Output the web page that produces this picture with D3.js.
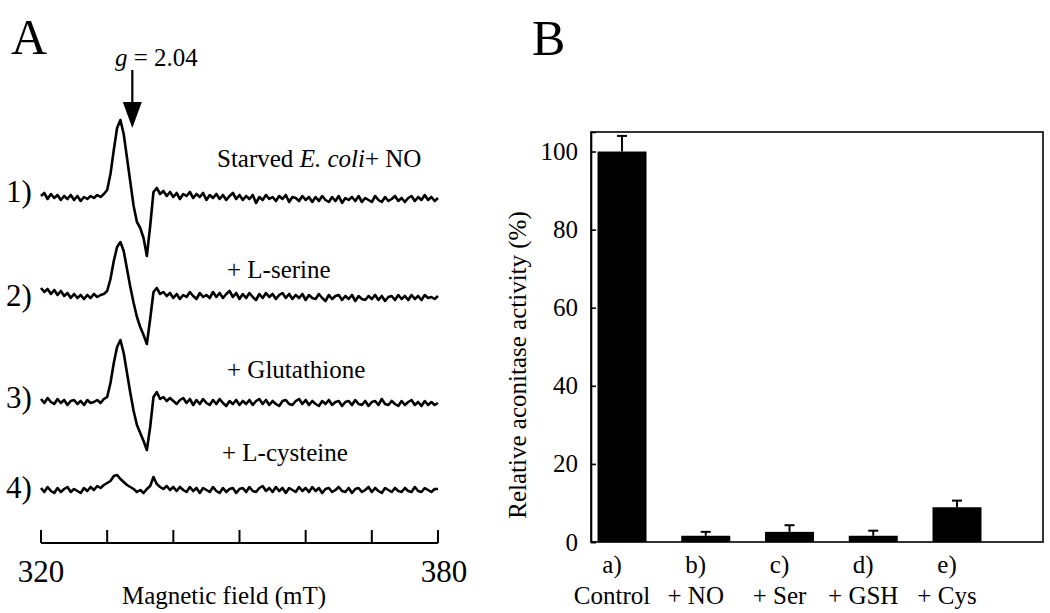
<!DOCTYPE html>
<html>
<head>
<meta charset="utf-8">
<script src="https://cdn.jsdelivr.net/npm/d3@7"></script>
<style>
  html, body { margin: 0; padding: 0; background: #fff; }
  svg { display: block; }
  text { font-family: "Liberation Serif", "Times New Roman", serif; fill: #000; }
</style>
</head>
<body>
<svg id="chart" width="1050" height="613" font-family="Liberation Serif, serif"></svg>
<script>
// ---------------- DATA ----------------
// Panel A: EPR spectra, magnetic field grid (mT) and first-derivative intensities (arb. units)
const fieldStart = 320, fieldEnd = 380, fieldStep = 0.5;
const fieldTicks = [320, 330, 340, 350, 360, 370, 380];
const fieldTickLabels = ["320", "380"];
const gMarkerField = 333.8;
const gLabel = "2.04";

const trace1 = [
  2, 5, -1, 4, 0, 3, -2, 2, -1, 3,
  -2, 2, -3, 1, -1, 2, 0, 3, 1, 4,
  8, 24, 48, 70, 78, 64, 40, 16, -8, -24,
  -30, -40, -58, -28, 6, 10, 4, 7, 2, 6,
  1, 5, -1, 4, 2, 6, 0, 4, 1, 5,
  -2, 3, 0, 4, -1, 3, -2, 2, 5, -1,
  3, -2, 2, -1, 3, -5, 1, -2, 3, -1,
  1, -3, 2, -1, 3, -4, 1, 0, -3, 2,
  -2, 1, -4, 1, -3, 2, -2, -4, 1, -3,
  2, -5, 0, -2, 1, -3, 2, -4, 0, -2,
  -4, 2, -2, -4, 1, -3, -1, 2, -3, 0,
  -4, 0, 2, -3, 1, -2, 3, -2, 1, -3,
  0
];
const trace2 = [
  9, 5, 8, 3, 7, 2, 6, 1, 4, -1,
  3, -1, 2, -2, 2, -1, 3, 0, 2, 3,
  6, 18, 36, 50, 55, 46, 28, 10, -6, -20,
  -30, -38, -47, -22, 5, 9, 3, 5, 1, 4,
  -1, 3, -2, 2, 0, 5, 1, -2, 4, 0,
  2, -1, 5, 0, 4, -1, 3, 6, 0, 4,
  -2, 3, -1, 4, 0, -3, 3, -1, 4, 0,
  3, -2, 2, 4, -1, 3, -2, 2, -1, 3,
  -3, 2, -1, -2, 3, -1, -4, 2, -2, 1,
  2, -3, 1, -2, 2, -4, 1, -2, -3, 1,
  -2, 2, -3, 1, -4, 0, 1, -3, 2, -2,
  1, -3, 2, -2, 1, -3, 2, -1, 0, -2,
  1
];
const trace3 = [
  4, 0, 5, 1, -1, 4, 0, 3, -2, 2,
  3, -1, 2, -2, 3, 0, 1, 3, 0, 4,
  6, 20, 40, 56, 63, 50, 30, 10, -8, -22,
  -30, -38, -47, -24, 6, 11, 4, 6, 2, 5,
  2, -1, 3, 5, 0, 4, -2, 3, -1, 4,
  0, -2, 3, -1, 4, 0, -3, 2, -1, 3,
  -2, 2, -1, 3, -2, 2, 4, -1, 3, -2,
  2, -1, -3, 2, 3, -1, -2, 2, 4, -1,
  3, -2, 2, -1, -3, 2, -1, 3, -2, 1,
  2, -3, 1, 2, -2, 3, -1, -2, 2, -3,
  1, 2, -2, 4, -1, -2, 2, -1, -3, 2,
  -2, 1, 3, -2, 1, -3, 2, -2, 1, -2,
  0
];
const trace4 = [
  2, -2, 3, -1, -3, 2, -2, 1, 3, -2,
  1, -1, -3, 2, -1, 3, 0, 4, 2, 5,
  7, 9, 14, 15, 11, 8, 5, 3, 1, -2,
  0, -3, 1, 4, 13, 6, 3, 1, 4, 0,
  3, -1, 3, 0, -2, 3, -1, 2, -3, 2,
  0, -2, 3, -1, -3, 2, -2, 1, 2, -3,
  1, 2, -2, 3, -1, -2, 2, 4, -1, 2,
  -2, 3, -1, 2, -3, 2, 0, -2, 3, -1,
  2, -2, 3, -1, 2, -3, 1, 2, -2, 0,
  3, -1, -2, 2, -3, 1, 2, -2, 0, 3,
  -2, 2, -1, -3, 2, 0, -2, 2, -1, -2,
  2, -1, -2, 3, -1, -2, 2, 0, -2, 1,
  1
];
const traceNumbers = ["1)", "2)", "3)", "4)"];

// Panel B: relative aconitase activity (%)
const categories = ["a)", "b)", "c)", "d)", "e)"];
const treatments = ["Control", "+ NO", "+ Ser", "+ GSH", "+ Cys"];
const activity = [100, 1.6, 2.6, 1.6, 8.9];
const activityErr = [4.0, 1.0, 1.7, 1.3, 1.7];
const yTicks = [0, 20, 40, 60, 80, 100];

// ---------------- DRAW ----------------
const svg = d3.select("#chart");
const field = d3.range(fieldStart, fieldEnd + fieldStep / 2, fieldStep);

// ===== Panel A =====
const xA = d3.scaleLinear().domain([fieldStart, fieldEnd]).range([41, 438]);
const yA = d3.scaleLinear().domain([-100, 100]).range([100, -100]); // 1 unit = 1 px, relative to baseline
const traceBase = [198, 297, 403, 490];
const traces = [trace1, trace2, trace3, trace4];

svg.append("text").attr("x", 11).attr("y", 54).attr("font-size", 50).text("A");

const line = d3.line().x((d, i) => xA(field[i])).y(d => yA(d));
traces.forEach((t, k) => {
  svg.append("path")
    .datum(t)
    .attr("transform", `translate(0,${traceBase[k]})`)
    .attr("d", line)
    .attr("fill", "none")
    .attr("stroke", "#000")
    .attr("stroke-width", 2.6)
    .attr("stroke-linejoin", "round");
  svg.append("text")
    .attr("x", 6).attr("y", traceBase[k] + [4, 9, 5, 8][k])
    .attr("font-size", 31)
    .text(traceNumbers[k]);
});

// trace annotations
const t1 = svg.append("text").attr("x", 217).attr("y", 167).attr("font-size", 25);
t1.append("tspan").text("Starved ");
t1.append("tspan").attr("font-style", "italic").text("E. coli");
t1.append("tspan").text("+ NO");
svg.append("text").attr("x", 227).attr("y", 278).attr("font-size", 25).text("+ L-serine");
svg.append("text").attr("x", 227).attr("y", 378).attr("font-size", 25).text("+ Glutathione");
svg.append("text").attr("x", 222).attr("y", 461).attr("font-size", 25).text("+ L-cysteine");

// g marker and arrow
const gx = xA(gMarkerField);
const gt = svg.append("text").attr("x", 115).attr("y", 66).attr("font-size", 25);
gt.append("tspan").attr("font-style", "italic").text("g");
gt.append("tspan").text(" = " + gLabel);
svg.append("line").attr("x1", gx).attr("x2", gx).attr("y1", 70).attr("y2", 104)
  .attr("stroke", "#000").attr("stroke-width", 2.2);
svg.append("path")
  .attr("d", `M${gx - 9.5},102 L${gx + 9.5},102 L${gx},128 Z`)
  .attr("fill", "#000");

// field axis
const axA = svg.append("g").attr("transform", "translate(0,543)");
axA.append("line").attr("x1", xA(fieldStart)).attr("x2", xA(fieldEnd))
  .attr("stroke", "#000").attr("stroke-width", 2);
axA.selectAll("line.tk").data(fieldTicks).join("line").attr("class", "tk")
  .attr("x1", d => xA(d)).attr("x2", d => xA(d)).attr("y1", 0).attr("y2", -13)
  .attr("stroke", "#000").attr("stroke-width", 2);
svg.selectAll("text.fl").data(fieldTickLabels).join("text").attr("class", "fl")
  .attr("x", d => xA(+d) + (d === "380" ? 6 : 0)).attr("y", 582)
  .attr("text-anchor", "middle").attr("font-size", 31).text(d => d);
svg.append("text").attr("x", 224).attr("y", 604).attr("text-anchor", "middle")
  .attr("font-size", 25).text("Magnetic field (mT)");

// ===== Panel B =====
svg.append("text").attr("x", 532).attr("y", 55).attr("font-size", 50).text("B");

const yB = d3.scaleLinear().domain([0, 105]).range([542, 132]);
const xB = d3.scalePoint().domain(categories).range([622, 957]);
const barW = 49;
const left = 591, right = 1043;

// frame
svg.append("rect").attr("x", left).attr("y", yB(105)).attr("width", right - left)
  .attr("height", yB(0) - yB(105)).attr("fill", "none").attr("stroke", "#000").attr("stroke-width", 1.6);

// bars
svg.selectAll("rect.bar").data(categories).join("rect").attr("class", "bar")
  .attr("x", d => xB(d) - barW / 2)
  .attr("y", (d, i) => yB(activity[i]))
  .attr("width", barW)
  .attr("height", (d, i) => yB(0) - yB(activity[i]))
  .attr("fill", "#000");

// error bars
const eb = svg.selectAll("g.eb").data(categories).join("g").attr("class", "eb");
eb.append("line")
  .attr("x1", d => xB(d)).attr("x2", d => xB(d))
  .attr("y1", (d, i) => yB(activity[i]))
  .attr("y2", (d, i) => yB(activity[i] + activityErr[i]))
  .attr("stroke", "#000").attr("stroke-width", 2);
eb.append("line")
  .attr("x1", d => xB(d) - 5).attr("x2", d => xB(d) + 5)
  .attr("y1", (d, i) => yB(activity[i] + activityErr[i]))
  .attr("y2", (d, i) => yB(activity[i] + activityErr[i]))
  .attr("stroke", "#000").attr("stroke-width", 2);

// y axis
const axB = d3.axisLeft(yB).tickValues(yTicks).tickSize(-5).tickPadding(13);
const gAx = svg.append("g").attr("transform", `translate(${left},0)`).call(axB);
gAx.attr("font-family", null);
gAx.select(".domain").attr("stroke", "#000").attr("stroke-width", 1.6);
gAx.selectAll(".tick line").attr("stroke", "#000").attr("stroke-width", 1.6);
gAx.selectAll(".tick text").attr("font-size", 25).attr("fill", "#000");

svg.append("text")
  .attr("transform", "translate(526,365) rotate(-90)")
  .attr("text-anchor", "middle").attr("font-size", 25)
  .text("Relative aconitase activity (%)");

// category labels
svg.selectAll("text.cat").data(categories).join("text").attr("class", "cat")
  .attr("x", d => xB(d) - 10).attr("y", 573).attr("text-anchor", "middle")
  .attr("font-size", 25).text(d => d);
svg.selectAll("text.trt").data(treatments).join("text").attr("class", "trt")
  .attr("x", (d, i) => xB(categories[i]) - 10).attr("y", 604).attr("text-anchor", "middle")
  .attr("font-size", 25).text(d => d);
</script>
</body>
</html>
